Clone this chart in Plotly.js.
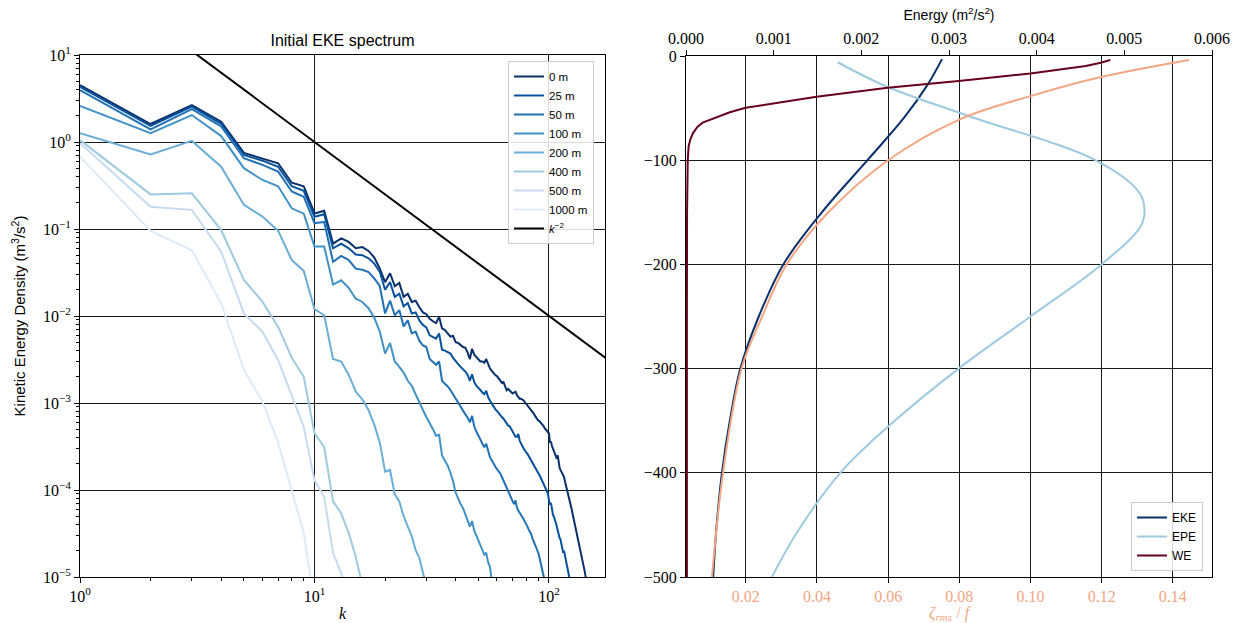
<!DOCTYPE html>
<html>
<head>
<meta charset="utf-8">
<script src="https://cdn.plot.ly/plotly-3.0.1.min.js"></script>
<style>html,body{margin:0;padding:0;background:#fff;}#plot{width:1233px;height:623px;}</style>
</head>
<body>
<div id="plot"></div>
<script>
// ---------------- Left panel: EKE spectra (value at integer wavenumber k = 1, 2, 3, ...) ----------------
const depthLabels = ['0 m', '25 m', '50 m', '100 m', '200 m', '400 m', '500 m', '1000 m'];
const depthColors = ['#08306b', '#08519c', '#2171b5', '#4292c6', '#6baed6', '#9ecae1', '#c6dbef', '#deebf7'];

const eke0 = [4.5, 1.61, 2.66, 1.71, 0.75, 0.65, 0.57, 0.34, 0.31, 0.151,
  0.162, 0.068, 0.078, 0.071, 0.060, 0.062, 0.056, 0.047, 0.035, 0.0245,
  0.031, 0.022, 0.024, 0.0166, 0.018, 0.0145, 0.015, 0.0126, 0.011, 0.0105,
  0.0093, 0.0087, 0.0083, 0.0098, 0.0072, 0.0069, 0.0063, 0.0058, 0.0059, 0.0050,
  0.0049, 0.0046, 0.0044, 0.0043, 0.0038, 0.0032, 0.0042, 0.0036, 0.0034, 0.0032,
  0.0030, 0.0030, 0.0029, 0.0032, 0.00275, 0.0025, 0.00234, 0.0022, 0.0021, 0.00204,
  0.0019, 0.0018, 0.0017, 0.00174, 0.00155, 0.0014, 0.00145, 0.00138, 0.00132, 0.00129,
  0.00132, 0.00135, 0.00123, 0.00117, 0.00112, 0.00112, 0.0011, 0.00107, 0.00102, 0.00098,
  0.00093, 0.00089, 0.00085, 0.00083, 0.00079, 0.00076, 0.00072, 0.00069, 0.00065, 0.00063,
  0.00062, 0.0006, 0.00058, 0.00056, 0.00054, 0.00051, 0.0005, 0.00048, 0.00046, 0.00045,
  0.00035, 0.00036, 0.00032, 0.0003, 0.00028, 0.00026, 0.000245, 0.00023, 0.00025, 0.0002,
  0.00018, 0.00017, 0.00016, 0.000158, 0.000148, 0.000141, 0.000126, 0.000115, 0.000107, 0.0001,
  8.9e-5, 7.9e-5, 7.2e-5, 6.6e-5, 6.0e-5, 5.4e-5, 4.9e-5, 4.5e-5, 4.0e-5, 3.5e-5,
  3.2e-5, 2.9e-5, 2.6e-5, 2.4e-5, 2.24e-5, 2.04e-5, 1.9e-5, 1.74e-5, 1.58e-5, 1.45e-5,
  1.32e-5, 1.17e-5, 1.05e-5, 9.3e-6, 7.9e-6];

const eke25 = [4.3, 1.53, 2.55, 1.62, 0.71, 0.61, 0.52, 0.31, 0.275, 0.138,
  0.148, 0.060, 0.068, 0.060, 0.051, 0.050, 0.046, 0.040, 0.032, 0.020,
  0.0245, 0.0166, 0.018, 0.0129, 0.0141, 0.0107, 0.011, 0.0089, 0.0079, 0.0074,
  0.0060, 0.0058, 0.0055, 0.0063, 0.0041, 0.0040, 0.0038, 0.0037, 0.0033, 0.0030,
  0.0028, 0.0026, 0.00245, 0.0023, 0.0021, 0.0018, 0.00214, 0.00174, 0.00158, 0.00151,
  0.00141, 0.00132, 0.00126, 0.00138, 0.00117, 0.00107, 0.00098, 0.00091, 0.00085, 0.00081,
  0.00076, 0.00072, 0.00069, 0.00066, 0.00062, 0.00059, 0.00055, 0.00054, 0.00050, 0.00047,
  0.00044, 0.00041, 0.00041, 0.00044, 0.00037, 0.00035, 0.00032, 0.00030, 0.00028, 0.00027,
  0.00026, 0.000245, 0.00023, 0.00022, 0.00021, 0.0002, 0.00019, 0.00018, 0.00017, 0.000158,
  0.000151, 0.000141, 0.000132, 0.000123, 0.000115, 0.000107, 0.000102, 9.5e-5, 9.1e-5, 7.6e-5,
  6.8e-5, 7.1e-5, 5.9e-5, 5.2e-5, 4.9e-5, 4.6e-5, 4.2e-5, 3.8e-5, 3.4e-5, 3.1e-5,
  2.8e-5, 2.7e-5, 2.3e-5, 2.1e-5, 1.9e-5, 2.0e-5, 1.7e-5, 1.5e-5, 1.4e-5, 1.26e-5,
  1.15e-5, 1.05e-5, 9.3e-6, 8e-6];

const eke50 = [3.96, 1.40, 2.39, 1.51, 0.65, 0.545, 0.457, 0.27, 0.235, 0.117,
  0.12, 0.042, 0.049, 0.044, 0.035, 0.034, 0.032, 0.027, 0.022, 0.0107,
  0.015, 0.0102, 0.0117, 0.0076, 0.0089, 0.0063, 0.0066, 0.0052, 0.0046, 0.0044,
  0.0032, 0.0030, 0.00275, 0.0030, 0.0018, 0.00166, 0.00155, 0.00141, 0.00126, 0.0011,
  0.00098, 0.00089, 0.00081, 0.00074, 0.00068, 0.0006, 0.00071, 0.00054, 0.00047, 0.00043,
  0.00038, 0.00034, 0.00031, 0.00034, 0.000275, 0.00024, 0.00022, 0.0002, 0.000186, 0.000174,
  0.000166, 0.000155, 0.000141, 0.000129, 0.000117, 0.000105, 9.8e-5, 8.9e-5, 8.1e-5, 7.4e-5,
  6.9e-5, 7.6e-5, 6.3e-5, 5.8e-5, 5.5e-5, 5.1e-5, 4.8e-5, 4.6e-5, 4.3e-5, 4.1e-5,
  3.8e-5, 3.5e-5, 3.3e-5, 3.1e-5, 2.8e-5, 2.6e-5, 2.45e-5, 2.24e-5, 2.1e-5, 1.9e-5,
  1.7e-5, 1.5e-5, 1.35e-5, 1.17e-5, 1.05e-5, 8.9e-6];

const eke100 = [2.6, 1.26, 2.04, 1.17, 0.50, 0.366, 0.31, 0.173, 0.15, 0.063,
  0.063, 0.023, 0.0257, 0.021, 0.0158, 0.0145, 0.0123, 0.0095, 0.0066, 0.0037,
  0.0049, 0.0030, 0.0026, 0.00224, 0.0018, 0.00158, 0.00126, 0.001, 0.00083, 0.00069,
  0.00059, 0.0005, 0.00042, 0.00043, 0.00025, 0.00022, 0.00019, 0.000158, 0.000126, 9.3e-5,
  7.9e-5, 6.9e-5, 6.2e-5, 5.2e-5, 4.4e-5, 3.8e-5, 4.4e-5, 3.4e-5, 3.0e-5, 2.6e-5,
  2.3e-5, 2.0e-5, 1.8e-5, 1.9e-5, 1.48e-5, 1.32e-5, 9.3e-6];

const eke200 = [1.26, 0.72, 1.03, 0.52, 0.19, 0.139, 0.095, 0.044, 0.033, 0.012,
  0.0102, 0.0032, 0.003, 0.0021, 0.00135, 0.0011, 0.00083, 0.00056, 0.00035, 0.000162,
  0.00017, 8.9e-5, 7.4e-5, 5.0e-5, 3.8e-5, 2.95e-5, 2.04e-5, 1.66e-5, 1.12e-5, 7.9e-6];

const eke400 = [1.05, 0.25, 0.257, 0.097, 0.026, 0.0146, 0.0075, 0.0033, 0.002, 0.00045,
  0.00031, 7.4e-5, 5.4e-5, 3.2e-5, 1.7e-5, 8e-6];

const eke500 = [0.97, 0.18, 0.166, 0.055, 0.0107, 0.0066, 0.0031, 0.0012, 0.00053, 0.00013,
  8.3e-5, 1.9e-5, 1.1e-5, 5e-6];

const eke1000 = [0.68, 0.095, 0.057, 0.014, 0.0024, 0.00104, 0.00035, 1e-4, 3.2e-5, 5e-6];

const spectra = [eke0, eke25, eke50, eke100, eke200, eke400, eke500, eke1000];

// reference slope k^-2
const kRef = [1, 200];
const eRef = [100, 0.0025];

const xTickVals = [1, 10, 100];
const xTickText = ['10<sup>0</sup>', '10<sup>1</sup>', '10<sup>2</sup>'];
const yTickVals = [1e-5, 1e-4, 1e-3, 1e-2, 1e-1, 1, 10];
const yTickText = ['10<sup>\u22125</sup>', '10<sup>\u22124</sup>', '10<sup>\u22123</sup>', '10<sup>\u22122</sup>', '10<sup>\u22121</sup>', '10<sup>0</sup>', '10<sup>1</sup>'];

// ---------------- Right panel: energy profiles ----------------
const ekeDepth = [-3, -27, -59, -100, -150, -200, -250, -300, -350, -400, -450, -500];
const ekeEnergy = [0.00292, 0.00276, 0.00249, 0.00207, 0.00155, 0.00111, 0.00083, 0.00062, 0.00050, 0.00041, 0.00035, 0.00031];

const epeDepth = [-6, -29, -58, -100, -131, -147, -163, -200, -250, -300, -356, -400, -458, -500];
const epeEnergy = [0.00173, 0.00228, 0.00324, 0.00467, 0.00517, 0.00523, 0.00519, 0.00474, 0.00393, 0.00311, 0.00230, 0.00176, 0.00126, 0.00098];

const weDepth = [-3.8, -6.4, -9.6, -16.7, -24, -30.4, -39, -49.7, -54, -57.7, -61, -64, -68, -74, -80, -86.5, -100, -150, -250, -350, -500];
const weEnergy = [0.00484, 0.00473, 0.00456, 0.00393, 0.00311, 0.00230, 0.00149, 0.00068, 0.00050, 0.00038, 0.00027, 0.00019, 0.00013, 0.00008, 0.00005, 0.00003, 0.00002, 0.000012, 0.00001, 0.00001, 0.00001];

const zetaDepth = [-3.8, -20, -38.5, -61, -100, -150, -200, -250, -300, -400, -500];
const zetaRms = [0.1445, 0.1201, 0.1000, 0.0800, 0.0600, 0.0432, 0.0315, 0.0246, 0.0188, 0.0136, 0.0105];

const profileLabels = ['EKE', 'EPE', 'WE'];
const profileColors = ['#08306b', '#9ecae1', '#67001f'];
const zetaColor = '#f4a582';

// ---------------- Traces ----------------
const traces = [];
spectra.forEach((vals, i) => {
  traces.push({
    x: vals.map((_, j) => j + 1), y: vals,
    type: 'scatter', mode: 'lines', name: depthLabels[i],
    line: {color: depthColors[i], width: 2},
    xaxis: 'x', yaxis: 'y', legend: 'legend'
  });
});
traces.push({
  x: kRef, y: eRef, type: 'scatter', mode: 'lines', name: '<i>k</i><sup>\u22122</sup>',
  line: {color: '#000', width: 2}, xaxis: 'x', yaxis: 'y', legend: 'legend'
});

const profiles = [[ekeEnergy, ekeDepth], [epeEnergy, epeDepth], [weEnergy, weDepth]];
profiles.forEach((p, i) => {
  traces.push({
    x: p[0], y: p[1], type: 'scatter', mode: 'lines', name: profileLabels[i],
    line: {color: profileColors[i], width: 2, shape: i === 2 ? 'linear' : 'spline', smoothing: 1.0},
    xaxis: 'x2', yaxis: 'y2', legend: 'legend2'
  });
});
traces.push({
  x: zetaRms, y: zetaDepth, type: 'scatter', mode: 'lines', name: 'zeta',
  line: {color: zetaColor, width: 2, shape: 'spline', smoothing: 1.0},
  xaxis: 'x3', yaxis: 'y2', showlegend: false
});

// minor tick positions for log axes
const minorX = [], minorY = [];
for (let d = 0; d <= 2; d++) for (let m = 2; m <= 9; m++) minorX.push(m * Math.pow(10, d));
for (let d = -5; d <= 0; d++) for (let m = 2; m <= 9; m++) minorY.push(m * Math.pow(10, d));

const serif = 'Liberation Serif, DejaVu Serif, serif';
const sans = 'Liberation Sans, Arial, sans-serif';
const W = 1233, H = 623;
const px = v => v / W, py = v => (H - v) / H;

const common = {
  showline: true, linecolor: '#000', linewidth: 1, mirror: true,
  ticks: 'outside', ticklen: 5, tickwidth: 1, tickcolor: '#000',
  zeroline: false, automargin: false,
  gridcolor: '#1a1a1a', gridwidth: 1,
  tickfont: {family: serif, size: 16, color: '#000'}
};

const layout = {
  width: W, height: H,
  margin: {l: 0, r: 0, t: 0, b: 0},
  paper_bgcolor: '#fff', plot_bgcolor: '#fff',
  font: {family: sans, color: '#000'},
  title: {text: 'Initial EKE spectrum', font: {family: sans, size: 16, color: '#000'},
          x: px(342.5), xanchor: 'center', xref: 'paper', y: py(40), yanchor: 'middle', yref: 'paper'},
  xaxis: Object.assign({}, common, {
    type: 'log', domain: [px(80), px(605)], range: [0, 2.239], anchor: 'y',
    tickmode: 'array', tickvals: xTickVals, ticktext: xTickText, showgrid: true,
    minor: {tickmode: 'array', tickvals: minorX, ticks: 'outside', ticklen: 3, tickcolor: '#000', showgrid: false},
    title: {text: '<i>k</i>', font: {family: serif, size: 16}, standoff: 3}
  }),
  yaxis: Object.assign({}, common, {
    type: 'log', domain: [py(577), py(55)], range: [-5, 1], anchor: 'x',
    tickmode: 'array', tickvals: yTickVals, ticktext: yTickText, showgrid: true,
    minor: {tickmode: 'array', tickvals: minorY, ticks: 'outside', ticklen: 3, tickcolor: '#000', showgrid: false},
    title: {text: 'Kinetic Energy Density (m<sup>3</sup>/s<sup>2</sup>)', font: {family: sans, size: 15}, standoff: 13}
  }),
  xaxis2: Object.assign({}, common, {
    domain: [px(686), px(1212)], range: [0, 0.006], anchor: 'y2', side: 'top',
    tickmode: 'linear', tick0: 0, dtick: 0.001, tickformat: '.3f', showgrid: false,
    title: {text: 'Energy (m<sup>2</sup>/s<sup>2</sup>)', font: {family: sans, size: 14}, standoff: 5}
  }),
  xaxis3: Object.assign({}, common, {
    domain: [px(686), px(1212)], range: [0.0032, 0.151], anchor: 'y2', overlaying: 'x2', side: 'bottom',
    tickmode: 'linear', tick0: 0, dtick: 0.02, tickformat: '.2f', showgrid: true,
    tickfont: {family: serif, size: 16, color: zetaColor},
    title: {text: '<i>\u03b6<sub>rms</sub></i> / <i>f</i>', font: {family: serif, size: 16, color: zetaColor}, standoff: 3}
  }),
  yaxis2: Object.assign({}, common, {
    domain: [py(577), py(56)], range: [-500, 0], anchor: 'x2',
    tickmode: 'linear', tick0: 0, dtick: 100, showgrid: true
  }),
  legend: {
    x: px(508), y: py(61), xanchor: 'left', yanchor: 'top', xref: 'paper', yref: 'paper',
    bgcolor: 'rgba(255,255,255,0.85)', bordercolor: '#cccccc', borderwidth: 1,
    font: {family: sans, size: 11.5, color: '#000'}, itemwidth: 30, tracegroupgap: 0
  },
  legend2: {
    x: px(1131), y: py(571), xanchor: 'left', yanchor: 'bottom', xref: 'paper', yref: 'paper',
    bgcolor: 'rgba(255,255,255,0.85)', bordercolor: '#cccccc', borderwidth: 1,
    font: {family: sans, size: 12, color: '#000'}, itemwidth: 30
  },
  showlegend: true
};

Plotly.newPlot('plot', traces, layout, {displayModeBar: false, staticPlot: true});
</script>
</body>
</html>
